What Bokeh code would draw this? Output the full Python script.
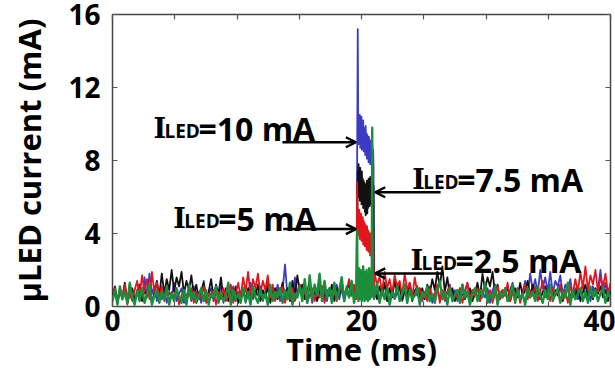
import numpy as np
from bokeh.plotting import figure
from bokeh.models import FixedTicker, LinearAxis, Range1d, Label, Arrow, OpenHead
from bokeh.embed import file_html
from bokeh.resources import INLINE

# ---------------- data (mA) ----------------
# time windows (ms) covered by each stretch of samples
pre_window = (0.0, 19.6)
post_window = (21.05, 40.0)
pulse_window = {"blue": (19.7, 21.0), "black": (19.7, 21.0),
                "red": (19.65, 21.0), "green": (19.65, 21.0)}

blue_pre = [0.5,0.9,0.2,1.0,0.4,0.8,0.3,1.1,0.6,0.2, 0.8,1.2,0.4,1.6,0.5,1.8,0.7,1.1,0.3,0.9,
            0.4,1.0,0.2,0.8,0.5,1.3,0.3,0.7,1.0,0.2, 0.6,0.9,0.3,1.1,0.5,0.8,0.2,1.4,0.4,0.7,
            1.0,0.3,0.8,0.5,1.2,0.2,0.9,0.4,0.7,1.1, 0.3,0.8,0.5,1.0,0.2,0.7,1.3,0.4,0.9,0.6,
            1.1,0.3,0.8,1.5,0.4,1.0,0.6,1.2,0.3,0.9, 2.3,0.5,1.0,0.3,1.6,0.7,1.2,0.4,0.9,0.6,
            1.1,0.2,0.8,0.5,1.3,0.4,0.9,0.3,1.0,0.6, 0.8,1.2,0.4,1.0,0.3,0.9,0.5,1.1,0.6,0.8]
blue_pulse = [15.2,10.6,8.9,10.3,9.0,10.5,8.7,10.1,9.2,10.4,8.6,9.9,8.8,10.2,8.5,9.8,8.9,9.6,
              8.3,9.9,8.4,9.5,8.1,9.4,8.6,9.2,7.9,9.3,8.2,9.0,7.8,9.1,8.0,8.8,7.6,8.9,7.9,8.6,
              7.7,0.4]
blue_post = [0.5,1.0,0.3,0.8,0.6,1.1,0.2,0.9,0.4,0.7, 1.0,0.3,0.8,0.5,1.2,0.4,0.9,0.6,1.0,0.3,
             0.8,0.5,1.1,0.2,0.7,1.0,0.4,0.9,0.3,0.8, 1.2,0.5,0.9,0.3,1.0,0.6,0.8,1.3,0.4,0.9,
             0.6,1.1,0.3,0.8,0.5,1.0,0.2,0.9,1.2,0.4, 0.8,0.5,1.0,0.3,0.9,1.3,0.6,1.0,0.4,0.8,
             1.4,0.6,1.8,0.9,1.5,0.7,2.0,1.0,1.6,0.8, 1.9,0.7,1.4,1.1,1.7,0.6,1.2,0.9,1.5,0.5,
             1.0,0.4,0.8,1.2,0.5,0.9,0.3,1.1,0.6,0.9, 2.0,0.7,1.3,0.5,1.0]

black_pre = [0.6,1.1,0.3,0.9,0.5,1.3,0.2,0.8,1.0,0.4, 0.7,1.2,0.3,0.9,0.6,1.0,0.2,0.8,1.4,0.6,
             1.8,0.7,1.5,0.9,2.0,0.8,1.6,1.1,1.9,0.7, 1.4,0.9,1.7,0.6,1.2,0.4,0.9,1.3,0.3,0.8,
             1.5,0.5,1.2,0.7,1.6,0.4,1.0,0.3,0.8,0.5, 1.1,0.2,0.7,0.9,0.4,1.0,0.3,0.8,0.6,1.2,
             0.3,0.9,0.5,1.1,0.2,0.8,1.0,0.4,0.7,1.3, 0.5,1.0,0.3,1.4,0.6,1.7,0.8,1.2,0.4,0.9,
             1.3,0.5,1.0,0.3,0.8,1.1,0.4,0.9,0.6,1.2, 0.3,1.0,0.7,1.4,0.5,0.9,1.2,0.6,1.0,0.5]
black_pulse = [7.4,6.2,7.8,6.0,7.5,5.8,7.6,6.1,7.2,5.6,7.4,5.9,7.0,5.4,6.9,5.7,6.8,5.2,6.7,
               5.0,6.6,5.3,6.9,5.1,6.7,5.4,7.0,5.6,6.8,5.5,7.1,5.8,6.9,5.6,7.2,5.9,6.8,5.7,
               6.6,0.6]
black_post = [0.9,0.4,1.1,0.6,1.3,0.3,1.0,0.5,1.4,0.7, 1.2,0.4,0.9,0.6,1.3,0.3,0.8,1.1,0.5,1.0,
              0.4,1.2,0.7,1.5,0.9,1.9,1.1,2.2,0.8,1.6, 0.6,1.0,0.3,0.9,0.5,1.2,0.4,0.8,1.0,0.3,
              0.7,1.3,0.5,1.8,0.9,1.6,1.1,1.9,0.7,1.2, 0.4,0.9,0.6,1.1,0.3,0.8,1.0,0.5,1.3,0.6,
              0.9,1.4,0.5,1.2,0.7,1.0,0.4,0.8,1.1,0.6, 1.0,0.4,0.9,0.6,1.2,0.3,0.7,1.0,0.5,0.9,
              0.6,1.1,0.3,0.8,1.2,0.5,0.9,0.4,1.0,0.7, 1.1,0.5,0.9,0.3,0.8]

red_pre = [0.4,1.0,0.2,0.8,0.5,1.2,0.1,0.7,0.3,0.9, 1.4,0.6,1.7,0.8,1.5,0.4,1.9,0.7,1.3,0.5,
           1.1,0.3,0.9,0.2,0.8,0.5,1.0,0.1,0.6,0.9, 0.3,0.7,1.0,0.2,0.8,0.4,0.6,1.1,0.2,0.7,
           0.5,0.9,0.1,0.8,0.4,1.0,0.3,0.6,1.2,0.2, 0.7,1.3,0.5,1.6,0.8,1.9,0.6,1.5,1.0,1.8,
           0.7,1.4,0.9,1.7,0.5,1.2,0.3,0.9,0.6,1.1, 0.2,0.8,0.4,1.0,0.3,0.7,1.2,0.5,0.9,0.2,
           0.6,1.0,0.3,0.8,0.5,1.1,0.2,0.7,0.9,0.4, 1.0,0.3,0.8,1.3,0.5,0.9,1.5,0.6,1.2,0.4]
red_pulse = [6.8,5.4,3.9,5.2,4.1,5.3,3.7,5.0,4.0,5.1,3.6,4.8,3.9,4.9,3.4,4.7,3.7,4.6,3.3,4.5,
             3.5,4.3,3.1,4.4,3.3,4.2,3.0,4.1,3.2,3.9,2.8,4.0,3.0,3.8,2.7,3.9,2.9,3.6,2.6,0.9]
red_post = [1.8,1.2,1.6,0.8,1.9,1.0,1.5,0.7,1.7,1.1, 1.4,0.6,1.8,0.9,1.3,0.5,1.6,0.8,1.0,0.4,
            0.8,0.3,1.0,0.5,0.7,1.2,0.2,0.9,0.4,0.8, 1.1,0.3,0.7,0.5,1.0,0.2,0.8,1.3,0.4,0.9,
            0.6,1.0,0.3,0.8,1.2,0.5,0.9,0.2,0.7,1.1, 0.4,0.9,0.6,1.3,0.3,0.8,0.5,1.0,0.2,0.7,
            1.2,0.4,0.9,0.6,1.1,0.3,0.8,1.4,0.5,0.9, 0.3,1.0,0.6,0.8,1.2,0.4,0.9,0.2,1.1,0.7,
            1.5,0.8,1.9,1.0,2.2,0.9,1.7,1.2,2.0,0.8, 1.6,1.1,1.8,0.7,1.3]

green_pre = [0.3,0.9,0.1,1.1,0.4,0.8,0.2,1.3,0.5,0.1, 0.9,0.3,1.0,0.2,0.7,1.2,0.1,0.6,0.9,0.2,
             0.8,0.4,1.1,0.1,0.7,0.3,1.0,0.5,0.2,0.9, 0.1,1.2,0.4,0.8,0.2,0.6,1.0,0.3,0.9,0.1,
             0.7,0.5,1.1,0.2,0.8,0.3,0.6,1.3,0.1,0.9, 0.4,0.7,0.2,1.0,0.3,0.8,0.1,1.1,0.5,0.2,
             0.9,0.4,0.7,0.1,1.2,0.3,0.8,0.5,1.0,0.2, 0.9,0.4,1.3,0.1,0.7,0.5,1.1,0.3,1.5,0.2,
             1.7,0.4,1.2,0.6,1.8,0.3,1.4,0.5,1.0,0.2, 1.3,0.4,0.9,1.6,0.3,1.1,0.5,1.4,0.2,1.0]
green_pulse = [4.2,0.5,1.9,0.3,2.1,0.8,1.6,0.4,2.0,0.6,1.4,0.3,1.8,0.9,2.2,0.5,1.5,0.3,1.9,0.7,
               1.3,0.4,2.0,0.6,1.7,0.3,1.5,0.8,2.1,0.4,1.6,0.6,1.9,0.5,1.2,9.8,1.4,0.6,1.1,0.5]
green_post = [0.6,1.3,0.2,0.9,0.4,1.0,0.1,0.8,0.5,1.1, 0.3,0.7,1.2,0.2,0.9,0.4,0.6,1.0,0.1,0.8,
              0.5,1.1,0.3,0.7,0.2,0.9,1.4,0.4,0.8,0.1, 1.0,0.3,0.6,0.9,0.2,1.2,0.5,0.8,0.1,0.7,
              1.0,0.3,0.9,0.5,1.3,0.2,0.7,0.4,1.1,0.1, 0.8,0.5,1.0,0.3,0.6,1.2,0.2,0.9,0.4,0.7,
              0.1,1.0,0.5,0.8,0.3,1.1,0.6,0.2,0.9,0.4, 1.2,0.3,0.7,1.0,0.2,0.8,0.5,1.3,0.1,0.9,
              0.4,0.7,1.0,0.3,0.8,0.2,1.1,0.5,0.9,0.3, 0.7,1.0,0.2,0.8,0.4]

x_ticks = [0, 5, 10, 15, 20, 25, 30, 35, 40]
x_tick_labels = {0: "0", 5: "", 10: "10", 15: "", 20: "20", 25: "", 30: "30", 35: "", 40: "40"}
y_ticks = [0, 4, 8, 12, 16]
annotation_values = ["=10 mA", "=7.5 mA", "=5 mA", "=2.5 mA"]

# ---------------- figure ----------------
p = figure(width=615, height=372, output_backend="svg", toolbar_location=None,
           x_range=Range1d(0, 40), y_range=Range1d(0, 16),
           min_border_left=112, min_border_right=5, min_border_top=14, min_border_bottom=66)
p.background_fill_color = "white"
p.border_fill_color = "white"
p.outline_line_color = "#444444"
p.outline_line_width = 1.5
p.xgrid.visible = False
p.ygrid.visible = False

series = [
    ("blue", "#3b3bc4", blue_pre, blue_pulse, blue_post, 1.8),
    ("black", "#111111", black_pre, black_pulse, black_post, 1.8),
    ("red", "#e3141c", red_pre, red_pulse, red_post, 1.8),
    ("green", "#1b8e3c", green_pre, green_pulse, green_post, 2.4),
]
for name, color, pre, pulse, post, lw in series:
    t = np.concatenate([np.linspace(*pre_window, len(pre)),
                        np.linspace(*pulse_window[name], len(pulse)),
                        np.linspace(*post_window, len(post))])
    v = np.concatenate([pre, pulse, post])
    p.line(t, v, line_color=color, line_width=lw, line_join="round")

FONT = "Open Sans"

# axes
xa = p.xaxis[0]
xa.ticker = FixedTicker(ticks=x_ticks)
xa.major_label_overrides = x_tick_labels
ya = p.yaxis[0]
ya.ticker = FixedTicker(ticks=y_ticks)
for ax in (xa, ya):
    ax.axis_line_color = None
    ax.major_tick_in = 5
    ax.major_tick_out = 0
    ax.minor_tick_in = 0
    ax.minor_tick_out = 0
    ax.major_tick_line_color = "#555555"
    ax.major_tick_line_width = 1.2
    ax.major_label_text_font = FONT
    ax.major_label_text_font_style = "bold"
    ax.major_label_text_font_size = "28px"
    ax.major_label_text_color = "black"
    ax.axis_label_text_font = FONT
    ax.axis_label_text_font_style = "bold"
    ax.axis_label_text_font_size = "31px"
    ax.axis_label_text_color = "black"
xa.axis_label = "Time (ms)"
ya.axis_label = "\u03bcLED current (mA)"
xa.major_label_standoff = 3
xa.axis_label_standoff = -6
ya.major_label_standoff = 12
ya.axis_label_standoff = 15

# inward ticks on the right and top edges
for loc, tk in (("right", y_ticks), ("above", x_ticks)):
    ax = LinearAxis(ticker=FixedTicker(ticks=tk), axis_line_color=None,
                    major_tick_in=5, major_tick_out=0, minor_tick_in=0, minor_tick_out=0,
                    major_tick_line_color="#555555", major_tick_line_width=1.2,
                    major_label_text_font_size="0px", major_label_standoff=0)
    p.add_layout(ax, loc)

# annotations: (anchor x ms, baseline y mA) and arrows
ann_pos = [(3.29, 9.75), (24.07, 6.94), (4.88, 4.80), (23.94, 2.50)]
arrows = [((13.65, 9.0), (19.55, 9.0)), ((26.35, 6.26), (21.1, 6.26)),
          ((13.71, 4.24), (19.55, 4.24)), ((26.59, 1.81), (21.1, 1.81))]
for (x0, y0), txt in zip(ann_pos, annotation_values):
    p.add_layout(Label(x=x0, y=y0, text="I", text_font="DejaVu Serif",
                       text_font_style="bold", text_font_size="27px", text_color="black",
                       text_baseline="alphabetic"))
    p.add_layout(Label(x=x0, y=y0, x_offset=11, y_offset=-2, text="LED", text_font=FONT,
                       text_font_style="bold", text_font_size="19px", text_color="black",
                       text_baseline="alphabetic"))
    p.add_layout(Label(x=x0, y=y0, x_offset=45, text=txt, text_font=FONT,
                       text_font_style="bold", text_font_size="32px", text_color="black",
                       text_baseline="alphabetic"))
for (xs, ys), (xe, ye) in arrows:
    p.add_layout(Arrow(x_start=xs, y_start=ys, x_end=xe, y_end=ye, line_width=2.5,
                       line_color="black",
                       end=OpenHead(size=10, line_width=2.5, line_color="black")))

open("out.html", "w").write(file_html(p, INLINE))
